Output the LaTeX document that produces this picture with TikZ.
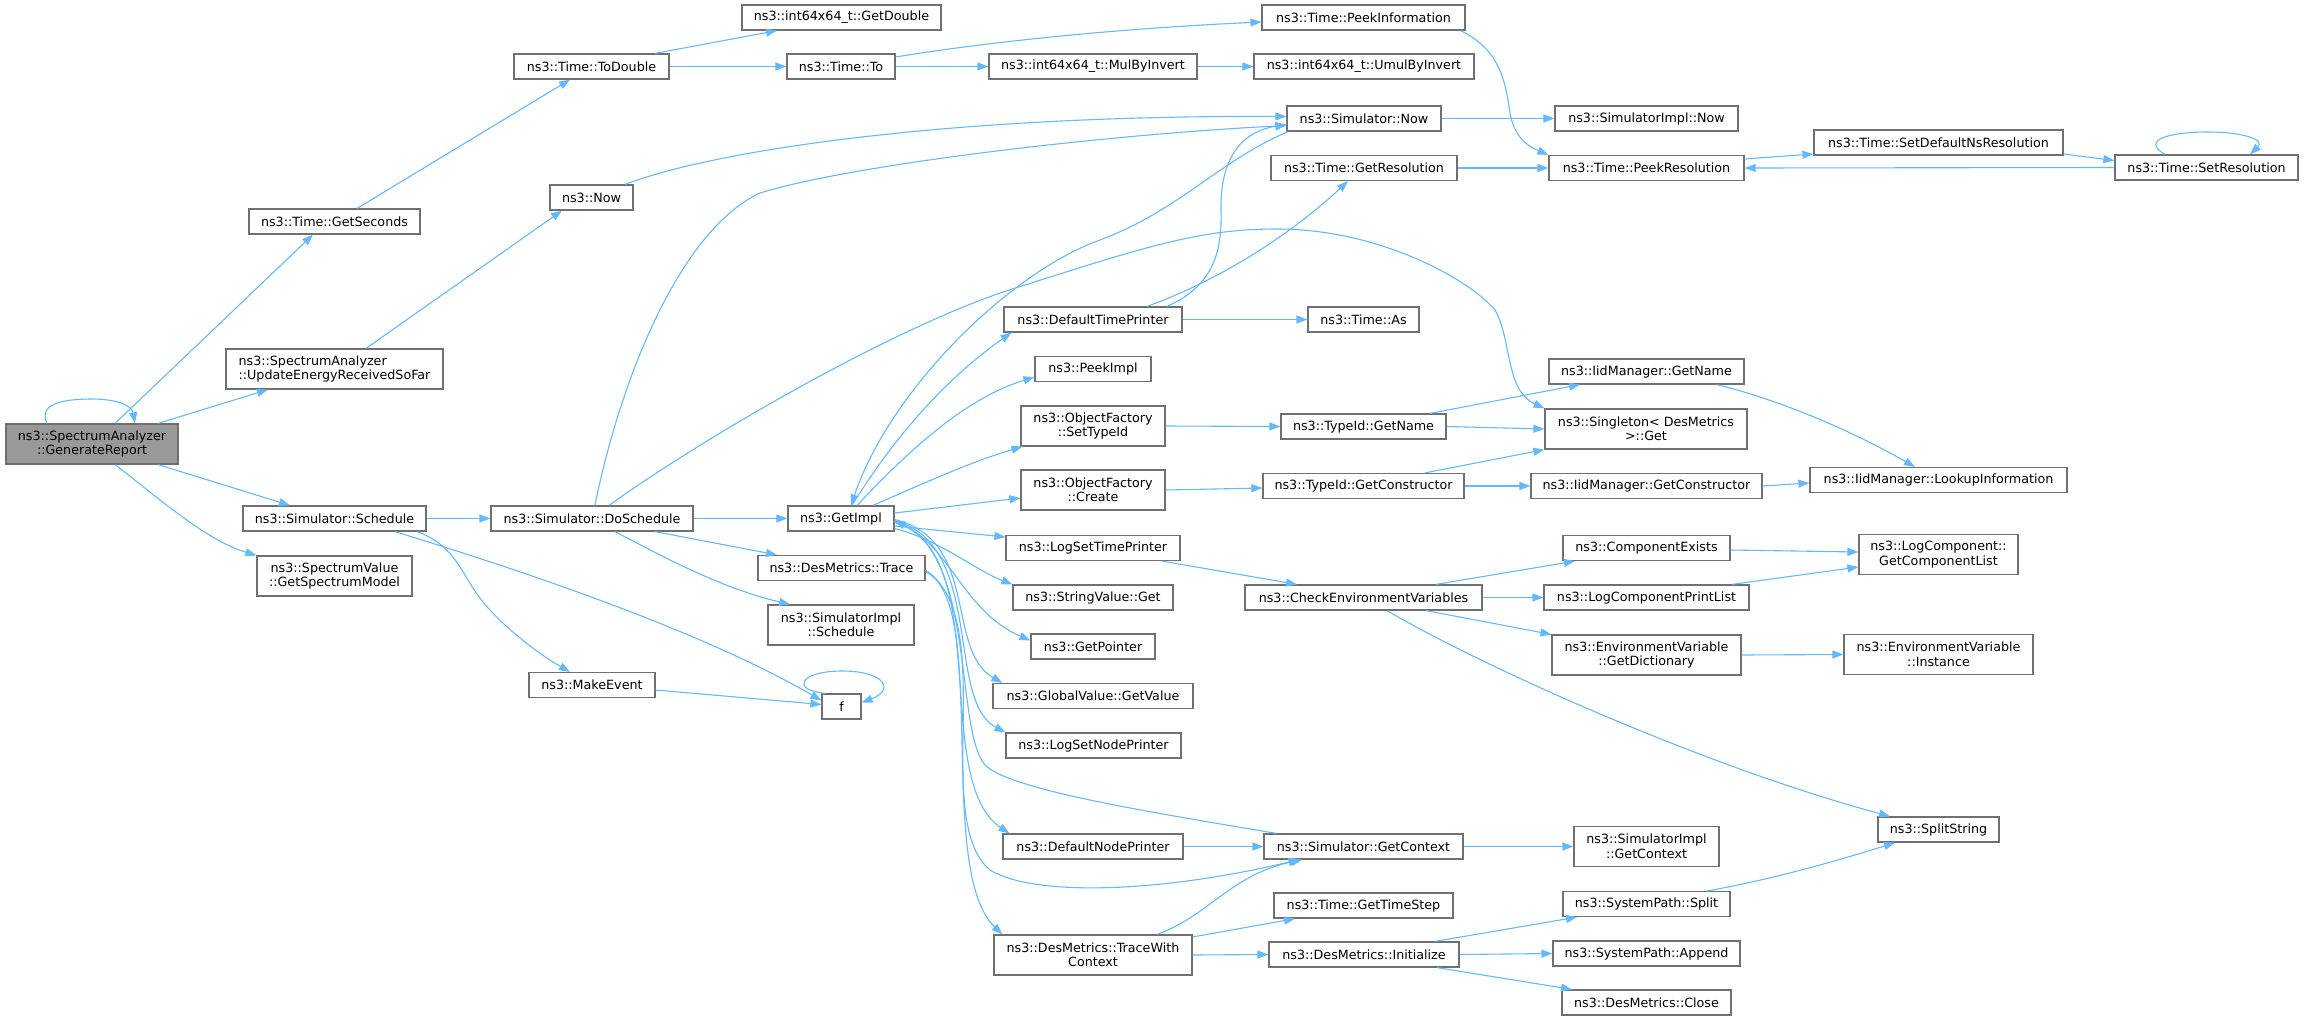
\documentclass[tikz,border=0pt]{standalone}
\usepackage{fontspec}
\setmainfont{DejaVu Sans}
\usetikzlibrary{arrows.meta}
\definecolor{edgeblue}{HTML}{63B8FF}
\definecolor{nodegray}{HTML}{707070}
\definecolor{grfill}{HTML}{999999}
\tikzset{
  box/.style={draw=nodegray, line width=1.2pt, fill=white, inner sep=0pt, align=center,
    font=\fontsize{12.7pt}{14.5pt}\selectfont},
  bone/.style={box, minimum height=25pt},
  btwo/.style={box, minimum height=40pt},
  edge/.style={draw=edgeblue, line width=1.1pt, -{Triangle[length=11pt,width=8pt]}}
}
\begin{document}
\begin{tikzpicture}[x=1pt,y=-1pt]
\useasboundingbox (0,0) rectangle (2304,1020);
% column 1
\node[btwo, minimum width=172pt, fill=grfill] (gr) at (92,444) {ns3::SpectrumAnalyzer\\::GenerateReport};
% column 2
\node[bone, minimum width=171pt] (gsec) at (334.5,221.5) {ns3::Time::GetSeconds};
\node[btwo, minimum width=217pt, align=left] (upd) at (334.5,369) {ns3::SpectrumAnalyzer\\::UpdateEnergyReceivedSoFar};
\node[bone, minimum width=183pt] (sched) at (334.5,518.5) {ns3::Simulator::Schedule};
\node[btwo, minimum width=155pt] (gsm) at (334.5,576) {ns3::SpectrumValue\\::GetSpectrumModel};
% column 3
\node[bone, minimum width=155pt] (todbl) at (591.5,66.5) {ns3::Time::ToDouble};
\node[bone, minimum width=83pt] (now) at (591.5,197.5) {ns3::Now};
\node[bone, minimum width=202pt] (dosch) at (592,518.5) {ns3::Simulator::DoSchedule};
\node[bone, minimum width=126pt] (mkev) at (592,685) {ns3::MakeEvent};
% column 4
\node[bone, minimum width=199pt] (getdbl) at (841.5,17.5) {ns3::int64x64\_t::GetDouble};
\node[bone, minimum width=108pt] (to) at (841,66.5) {ns3::Time::To};
\node[bone, minimum width=106pt] (getimpl) at (841,518.5) {ns3::GetImpl};
\node[bone, minimum width=167pt] (trace) at (841.5,568) {ns3::DesMetrics::Trace};
\node[btwo, minimum width=146pt] (simisch) at (841,625) {ns3::SimulatorImpl\\::Schedule};
\node[bone, minimum width=39pt] (f) at (841.5,706.5) {f};
% column 5
\node[bone, minimum width=208pt] (mulinv) at (1093,66.5) {ns3::int64x64\_t::MulByInvert};
\node[bone, minimum width=178pt] (dtp) at (1093,319.5) {ns3::DefaultTimePrinter};
\node[bone, minimum width=116pt] (peekimpl) at (1093,369) {ns3::PeekImpl};
\node[btwo, minimum width=144pt] (ofset) at (1093,426) {ns3::ObjectFactory\\::SetTypeId};
\node[btwo, minimum width=144pt] (ofcreate) at (1093,490) {ns3::ObjectFactory\\::Create};
\node[bone, minimum width=174pt] (lstp) at (1093,548) {ns3::LogSetTimePrinter};
\node[bone, minimum width=160pt] (svget) at (1093,597.5) {ns3::StringValue::Get};
\node[bone, minimum width=124pt] (getptr) at (1093,646.5) {ns3::GetPointer};
\node[bone, minimum width=200pt] (gvget) at (1093,696) {ns3::GlobalValue::GetValue};
\node[bone, minimum width=175pt] (lsnp) at (1093.5,745.5) {ns3::LogSetNodePrinter};
\node[bone, minimum width=180pt] (dnp) at (1093,846.5) {ns3::DefaultNodePrinter};
\node[btwo, minimum width=198pt] (twc) at (1093,955) {ns3::DesMetrics::TraceWith\\Context};
% column 6
\node[bone, minimum width=203pt] (peekinfo) at (1363.5,17.5) {ns3::Time::PeekInformation};
\node[bone, minimum width=220pt] (umul) at (1364,66.5) {ns3::int64x64\_t::UmulByInvert};
\node[bone, minimum width=154pt] (simnow) at (1364,118.5) {ns3::Simulator::Now};
\node[bone, minimum width=186pt] (getres) at (1364,168) {ns3::Time::GetResolution};
\node[bone, minimum width=111pt] (as) at (1363.5,319.5) {ns3::Time::As};
\node[bone, minimum width=165pt] (tidname) at (1363.5,426.5) {ns3::TypeId::GetName};
\node[bone, minimum width=201pt] (tidctor) at (1363.5,486) {ns3::TypeId::GetConstructor};
\node[bone, minimum width=237pt] (chkenv) at (1363.5,597.5) {ns3::CheckEnvironmentVariables};
\node[bone, minimum width=199pt] (getctx) at (1363.5,846.5) {ns3::Simulator::GetContext};
\node[bone, minimum width=179pt] (gts) at (1363.5,905.5) {ns3::Time::GetTimeStep};
\node[bone, minimum width=190pt] (dminit) at (1364,954.5) {ns3::DesMetrics::Initialize};
% column 7
\node[bone, minimum width=183pt] (simimplnow) at (1646.5,118.5) {ns3::SimulatorImpl::Now};
\node[bone, minimum width=195pt] (peekres) at (1646.5,168) {ns3::Time::PeekResolution};
\node[bone, minimum width=195pt] (iidname) at (1646.5,371.5) {ns3::IidManager::GetName};
\node[btwo, minimum width=202pt] (singleton) at (1646,429) {ns3::Singleton< DesMetrics\\>::Get};
\node[bone, minimum width=231pt] (iidctor) at (1646.5,486) {ns3::IidManager::GetConstructor};
\node[bone, minimum width=167pt] (compex) at (1646.5,548) {ns3::ComponentExists};
\node[bone, minimum width=205pt] (lcpl) at (1646.5,597.5) {ns3::LogComponentPrintList};
\node[btwo, minimum width=189pt] (getdict) at (1646.5,655) {ns3::EnvironmentVariable\\::GetDictionary};
\node[btwo, minimum width=145pt] (simimplctx) at (1646.5,846.5) {ns3::SimulatorImpl\\::GetContext};
\node[bone, minimum width=167pt] (spsplit) at (1646.5,904) {ns3::SystemPath::Split};
\node[bone, minimum width=187pt] (spappend) at (1646.5,953.5) {ns3::SystemPath::Append};
\node[bone, minimum width=169pt] (dmclose) at (1646.5,1002.5) {ns3::DesMetrics::Close};
% column 8
\node[bone, minimum width=249pt] (setdefns) at (1938.5,142.5) {ns3::Time::SetDefaultNsResolution};
\node[bone, minimum width=257pt] (lookup) at (1938.5,480) {ns3::IidManager::LookupInformation};
\node[btwo, minimum width=159pt] (gcl) at (1938.5,554.5) {ns3::LogComponent::\\GetComponentList};
\node[btwo, minimum width=189pt] (envinst) at (1938.5,654.5) {ns3::EnvironmentVariable\\::Instance};
\node[bone, minimum width=121pt] (splitstr) at (1938.5,829.5) {ns3::SplitString};
% column 9
\node[bone, minimum width=183pt] (setres) at (2206.5,167.5) {ns3::Time::SetResolution};

% ---------- edges ----------
\draw[edge] ([xshift=-45pt]gr.north) .. controls (38,404) and (62,399) .. (92,399) .. controls (118,399) and (132,406) .. ([xshift=43pt]gr.north);
\draw[edge] ([xshift=23pt]gr.north) -- ([xshift=-21.5pt]gsec.south);
\draw[edge] ([xshift=66pt]gr.north) -- ([xshift=-66.5pt]upd.south);
\draw[edge] ([xshift=66pt]gr.south) -- ([xshift=-44.5pt]sched.north);
\draw[edge] ([xshift=23pt]gr.south) .. controls (155,495) and (205,540) .. (gsm.north west);
\draw[edge] ([xshift=22.5pt]gsec.north) -- ([xshift=-21.5pt]todbl.south);
\draw[edge] ([xshift=31.5pt]upd.north) -- ([xshift=-29.5pt]now.south);
\draw[edge] (sched.east) -- (dosch.west);
\draw[edge] ([xshift=82.5pt]sched.south) .. controls (455,545) and (462,575) .. (480,598) .. controls (500,625) and (540,655) .. ([xshift=-22pt]mkev.north);
\draw[edge] ([xshift=60.5pt]sched.south) .. controls (520,570) and (700,630) .. ([yshift=6pt]f.west);
\draw[edge] ([yshift=-5pt]mkev.east) -- ([yshift=2pt]f.west);
\draw[edge] ([xshift=4pt]f.north west) .. controls (790,690) and (800,671) .. (842,671) .. controls (885,671) and (895,690) .. ([yshift=4pt]f.east);
\draw[edge] ([xshift=63.5pt]todbl.north) -- ([xshift=-64.5pt]getdbl.south);
\draw[edge] (todbl.east) -- (to.west);
\draw[edge] ([xshift=33.5pt]now.north) .. controls (715,150) and (950,115) .. ([yshift=2pt]simnow.west);
\draw[edge] ([xshift=3pt]dosch.north) .. controls (620,380) and (680,230) .. (760,193) .. controls (850,165) and (1100,135) .. ([yshift=-7pt]simnow.west);
\draw[edge] (dosch.east) -- (getimpl.west);
\draw[edge] ([xshift=63pt]dosch.south) -- ([xshift=-64.5pt]trace.north);
\draw[edge] ([xshift=23pt]dosch.south) .. controls (660,555) and (720,588) .. ([xshift=-51pt]simisch.north);
\draw[edge] ([xshift=17pt]dosch.north) .. controls (700,440) and (880,335) .. (1000,293) .. controls (1150,245) and (1200,229) .. (1277,229) .. controls (1380,229) and (1470,280) .. (1495,310) .. controls (1512,340) and (1505,390) .. (singleton.north west);
\draw[edge] ([yshift=9.5pt]to.east) .. controls (1000,40) and (1130,28) .. ([yshift=-4.5pt]peekinfo.west);
\draw[edge] (to.east) -- (mulinv.west);
\draw[edge] (mulinv.east) -- (umul.west);
\draw[edge] ([xshift=-5pt]peekinfo.south east) .. controls (1500,50) and (1505,80) .. (1510,113) .. controls (1514,135) and (1525,145) .. (peekres.north west);
\draw[edge] (simnow.east) -- (simimplnow.west);
\draw[edge] ([xshift=2pt]simnow.south west) .. controls (1220,160) and (1180,210) .. (1100,240) .. controls (1010,272) and (890,390) .. ([xshift=10pt]getimpl.north);
\draw[edge] ([xshift=74pt]dtp.north) .. controls (1215,285) and (1222,250) .. (1221,210) .. controls (1220,160) and (1240,132) .. ([yshift=-6pt]simnow.west);
\draw[edge] ([xshift=54pt]dtp.north) .. controls (1220,280) and (1290,235) .. ([xshift=-16pt]getres.south);
\draw[edge] (dtp.east) -- (as.west);
\draw[edge] (getres.east) -- (peekres.west);
\draw[edge] ([yshift=9pt]peekres.east) -- ([yshift=-11.5pt]setdefns.west);
\draw[edge] ([yshift=-11.5pt]setdefns.east) -- ([yshift=7pt]setres.west);
\draw[edge] (setres.west) -- (peekres.east);
\draw[edge] ([xshift=-41.5pt]setres.north) .. controls (2140,140) and (2170,132) .. (2207,132) .. controls (2245,132) and (2265,140) .. ([xshift=43.5pt]setres.north);
\draw[edge] ([xshift=11pt]getimpl.north) .. controls (880,460) and (930,390) .. ([xshift=8pt]dtp.south west);
\draw[edge] ([xshift=16pt]getimpl.north) .. controls (900,460) and (960,400) .. ([yshift=-8pt]peekimpl.west);
\draw[edge] ([xshift=32pt]getimpl.north) .. controls (920,485) and (970,462) .. ([xshift=2pt]ofset.south west);
\draw[edge] ([yshift=5.5pt]getimpl.east) -- ([yshift=-8pt]ofcreate.west);
\draw[edge] ([yshift=-7.5pt]getimpl.east) -- ([yshift=11pt]lstp.west);
\draw[edge] ([yshift=-10pt]getimpl.east) .. controls (940,540) and (975,570) .. (svget.north west);
\draw[edge] ([yshift=-3pt]getimpl.east) .. controls (950,540) and (960,610) .. ([yshift=6pt]getptr.west);
\draw[edge] ([yshift=-1pt]getimpl.east) .. controls (980,540) and (945,650) .. ([xshift=10pt]gvget.north west);
\draw[edge] ([yshift=-2pt]getimpl.east) .. controls (985,545) and (945,700) .. (lsnp.north west);
\draw[edge] ([yshift=-4pt]getimpl.east) .. controls (995,550) and (930,780) .. ([xshift=7pt]dnp.north west);
\draw[edge] ([xshift=13pt]getctx.north west) .. controls (1150,812) and (1010,790) .. (985,765) .. controls (955,730) and (975,560) .. ([yshift=-2pt]getimpl.east);
\draw[edge] ([yshift=-4pt]trace.east) .. controls (990,600) and (935,870) .. ([xshift=9pt]twc.north west);
\draw[edge] ([yshift=-2pt]trace.east) .. controls (1000,620) and (930,820) .. (990,870) .. controls (1030,895) and (1150,895) .. ([xshift=36pt]getctx.south west);
\draw[edge] ([xshift=64pt]twc.north) .. controls (1210,915) and (1230,875) .. ([xshift=39pt]getctx.south west);
\draw[edge] (dnp.east) -- (getctx.west);
\draw[edge] (getctx.east) -- (simimplctx.west);
\draw[edge] ([yshift=18pt]twc.east) -- ([xshift=-68.5pt]gts.south);
\draw[edge] (twc.east) -- (dminit.west);
\draw[edge] ([xshift=71pt]dminit.north) -- ([xshift=-69.5pt]spsplit.south);
\draw[edge] (dminit.east) -- (spappend.west);
\draw[edge] ([xshift=73pt]dminit.south) -- ([xshift=-74.5pt]dmclose.north);
\draw[edge] ([xshift=60.5pt]spsplit.north) .. controls (1770,880) and (1840,860) .. ([xshift=-43.5pt]splitstr.south);
\draw[edge] (ofset.east) -- (tidname.west);
\draw[edge] (ofcreate.east) -- ([yshift=-2pt]tidctor.west);
\draw[edge] ([xshift=66.5pt]tidname.north) -- ([xshift=-66.5pt]iidname.south);
\draw[edge] (tidname.east) -- (singleton.west);
\draw[edge] ([xshift=61.5pt]tidctor.north) -- (singleton.south west);
\draw[edge] (tidctor.east) -- (iidctor.west);
\draw[edge] ([xshift=70pt]iidname.south) .. controls (1780,400) and (1850,430) .. ([xshift=-23.5pt]lookup.north);
\draw[edge] (iidctor.east) -- ([yshift=-3pt]lookup.west);
\draw[edge] ([xshift=69pt]lstp.south) -- ([xshift=-66.5pt]chkenv.north);
\draw[edge] ([xshift=72.5pt]chkenv.north) -- ([xshift=-71.5pt]compex.south);
\draw[edge] (chkenv.east) -- (lcpl.west);
\draw[edge] ([xshift=62.5pt]chkenv.south) -- (getdict.north west);
\draw[edge] ([xshift=23.5pt]chkenv.south) .. controls (1480,665) and (1700,765) .. ([xshift=-48.5pt]splitstr.north);
\draw[edge] ([yshift=-2pt]compex.east) -- ([yshift=2.5pt]gcl.west);
\draw[edge] ([xshift=85.5pt]lcpl.north) -- ([yshift=-12.5pt]gcl.west);
\draw[edge] (getdict.east) -- (envinst.west);
\end{tikzpicture}
\end{document}
